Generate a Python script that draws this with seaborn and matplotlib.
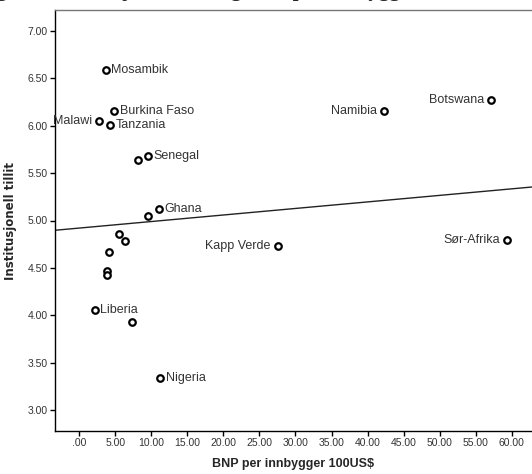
import matplotlib
matplotlib.use("Agg")
import matplotlib.pyplot as plt
import seaborn as sns
import pandas as pd

# Data
countries = ["Mosambik", "Burkina Faso", "Malawi", "Tanzania", "", "Senegal",
             "Ghana", "", "", "", "", "", "", "Liberia", "", "Nigeria",
             "Namibia", "Botswana", "Sør-Afrika", "Kapp Verde"]
bnp = [3.69, 4.84, 2.72, 4.33, 8.21, 9.60, 11.04, 9.60, 5.58, 6.41, 4.19,
       3.91, 3.83, 2.16, 7.34, 11.26, 42.33, 57.09, 59.35, 27.54]
tillit = [6.59, 6.16, 6.05, 6.01, 5.64, 5.68, 5.12, 5.05, 4.86, 4.78, 4.67,
          4.47, 4.42, 4.06, 3.93, 3.34, 6.15, 6.27, 4.79, 4.73]
label_side = ["r", "r", "l", "r", "", "r", "r", "", "", "", "", "", "", "r", "",
              "r", "l", "l", "l", "l"]
fit_intercept = 4.92
fit_slope = 0.0069
x_ticks = [0, 5, 10, 15, 20, 25, 30, 35, 40, 45, 50, 55, 60]
y_ticks = [3.0, 3.5, 4.0, 4.5, 5.0, 5.5, 6.0, 6.5, 7.0]

df = pd.DataFrame({"land": countries, "bnp": bnp, "tillit": tillit, "side": label_side})

sns.set_style("white")
plt.rcParams["font.family"] = ["Liberation Sans", "DejaVu Sans"]

fig = plt.figure(figsize=(5.32, 4.74), dpi=100)
ax = fig.add_axes([55 / 532, 43 / 474, 1 - 55 / 532, 421 / 474])

sns.scatterplot(data=df, x="bnp", y="tillit", ax=ax, s=22, facecolor="white",
                edgecolor="black", linewidth=1.6, zorder=3)

ax.axline((0, fit_intercept), slope=fit_slope, color="#222222", lw=1.0, zorder=2)

label_color = "#333333"
for _, r in df.iterrows():
    if not r["land"]:
        continue
    if r["side"] == "r":
        ax.annotate(r["land"], (r["bnp"], r["tillit"]), xytext=(4, 0),
                    textcoords="offset points", ha="left", va="center",
                    fontsize=9, color=label_color)
    else:
        ax.annotate(r["land"], (r["bnp"], r["tillit"]), xytext=(-5, 0),
                    textcoords="offset points", ha="right", va="center",
                    fontsize=9, color=label_color)

ax.set_xlim(-3.34, 62.8)
ax.set_ylim(2.78, 7.22)
ax.set_xticks(x_ticks)
ax.set_xticklabels([".00" if v == 0 else f"{v:.2f}" for v in x_ticks])
ax.set_yticks(y_ticks)
ax.set_yticklabels([f"{v:.2f}" for v in y_ticks])
ax.tick_params(axis="both", which="major", direction="out", length=3.5, width=1,
               labelsize=7.5, labelcolor="#333333", color="black", pad=1.5,
               left=True, bottom=True)

for side in ["left", "bottom"]:
    ax.spines[side].set_color("black")
    ax.spines[side].set_linewidth(1.0)
ax.spines["top"].set_color("#777777")
ax.spines["top"].set_linewidth(1.0)
ax.spines["right"].set_visible(False)

ax.set_xlabel("BNP per innbygger 100US$", fontsize=9, fontweight="bold", labelpad=7)
ax.set_ylabel("Institusjonell tillit", fontsize=8.5, fontweight="bold",
              family="DejaVu Sans", labelpad=8)

fig.text(418 / 532, 1 + 4 / 474, "Figur 4: Institusjonell tillit og BNP per innbygger",
         ha="right", va="baseline", fontsize=15, fontweight="bold",
         family="Liberation Serif")

fig.savefig("out.png", dpi=100)
